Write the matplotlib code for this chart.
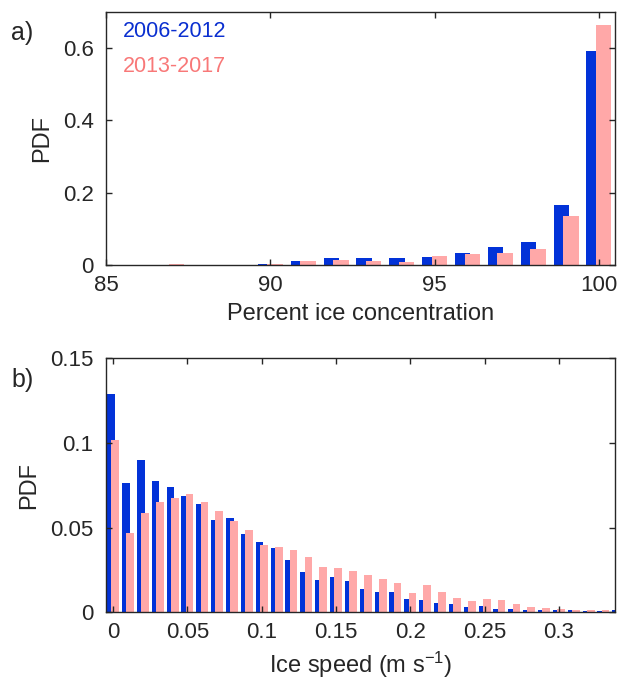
import numpy as np
import matplotlib
matplotlib.use('Agg')
import matplotlib.pyplot as plt

# 그림에서 읽은 값들
conc_bins = [85, 86, 87, 88, 89, 90, 91, 92, 93, 94, 95, 96, 97, 98, 99, 100]
conc_early = [0.001, 0.001, 0.001, 0.001, 0.001, 0.002, 0.010, 0.018, 0.018, 0.020,
              0.023, 0.034, 0.050, 0.064, 0.166, 0.592]
conc_late = [0.001, 0.001, 0.002, 0.001, 0.001, 0.003, 0.011, 0.014, 0.012, 0.009,
             0.025, 0.031, 0.034, 0.045, 0.135, 0.664]

speed_bins = [0.00, 0.01, 0.02, 0.03, 0.04, 0.05, 0.06, 0.07, 0.08, 0.09, 0.10, 0.11,
              0.12, 0.13, 0.14, 0.15, 0.16, 0.17, 0.18, 0.19, 0.20, 0.21, 0.22, 0.23,
              0.24, 0.25, 0.26, 0.27, 0.28, 0.29, 0.30, 0.31, 0.32, 0.33, 0.34]
speed_early = [0.1292, 0.0763, 0.0899, 0.0773, 0.0740, 0.0688, 0.0641, 0.0544, 0.0554,
               0.0465, 0.0414, 0.0379, 0.0309, 0.0237, 0.0189, 0.0207, 0.0183, 0.0137,
               0.0118, 0.0122, 0.0077, 0.0071, 0.0053, 0.0047, 0.0030, 0.0036, 0.0020,
               0.0021, 0.0014, 0.0014, 0.0012, 0.0012, 0.0008, 0.0008, 0.0012]
speed_late = [0.1020, 0.0467, 0.0589, 0.0651, 0.0674, 0.0698, 0.0654, 0.0598, 0.0540,
              0.0487, 0.0400, 0.0386, 0.0365, 0.0327, 0.0270, 0.0264, 0.0243, 0.0221,
              0.0195, 0.0172, 0.0114, 0.0160, 0.0120, 0.0085, 0.0067, 0.0080, 0.0073,
              0.0047, 0.0031, 0.0025, 0.0020, 0.0016, 0.0014, 0.0014, 0.0010]

labels = ['2006-2012', '2013-2017']

blue = '#0232d8'
pink = '#ffa8a8'
blue_txt = '#0a2fd0'
pink_txt = '#f87878'
axcol = '#262626'

plt.rcParams['font.family'] = ['Liberation Sans', 'DejaVu Sans']
plt.rcParams['mathtext.default'] = 'regular'


def style_axes(ax):
    for s in ax.spines.values():
        s.set_color(axcol)
        s.set_linewidth(1.0)
    ax.tick_params(direction='in', top=True, right=True, length=4.5, width=1.0,
                   colors=axcol, labelsize=16, pad=7)
    ax.tick_params(axis='y', pad=9)


fig = plt.figure(figsize=(6.2, 6.89), dpi=100)

# a) 얼음 농도
ax0 = fig.add_axes([0.171, 0.6154, 0.821, 0.3676])
x = np.array(conc_bins)
ax0.bar(x - 0.145, conc_early, width=0.47, color=blue, edgecolor='none')
ax0.bar(x + 0.145, conc_late, width=0.47, color=pink, edgecolor='none')
ax0.set_xlim(85, 100.49)
ax0.set_ylim(0, 0.7)
ax0.set_xticks([85, 90, 95, 100])
ax0.set_yticks([0, 0.2, 0.4, 0.6])
ax0.set_yticklabels(['0', '0.2', '0.4', '0.6'])
style_axes(ax0)
ax0.set_xlabel('Percent ice concentration', fontsize=17, color=axcol, labelpad=5)
ax0.set_ylabel('PDF', fontsize=17, color=axcol, labelpad=7)
ax0.text(0.033, 0.921, labels[0], transform=ax0.transAxes, color=blue_txt,
         fontsize=15.5, va='center', ha='left')
ax0.text(0.033, 0.783, labels[1], transform=ax0.transAxes, color=pink_txt,
         fontsize=15.5, va='center', ha='left')

# b) 얼음 속도
ax1 = fig.add_axes([0.171, 0.1113, 0.821, 0.3687])
xs = np.array(speed_bins)
ax1.bar(xs - 0.00146, speed_early, width=0.0052, color=blue, edgecolor='none')
ax1.bar(xs + 0.00146, speed_late, width=0.0052, color=pink, edgecolor='none')
ax1.set_xlim(-0.0048, 0.3378)
ax1.set_ylim(0, 0.15)
ax1.set_xticks([0, 0.05, 0.1, 0.15, 0.2, 0.25, 0.3])
ax1.set_xticklabels(['0', '0.05', '0.1', '0.15', '0.2', '0.25', '0.3'])
ax1.set_yticks([0, 0.05, 0.1, 0.15])
ax1.set_yticklabels(['0', '0.05', '0.1', '0.15'])
style_axes(ax1)
ax1.set_xlabel('Ice speed (m s$^{-1}$)', fontsize=17, color=axcol, labelpad=5)
ax1.set_ylabel('PDF', fontsize=17, color=axcol, labelpad=7)

fig.text(0.018, 0.952, 'a)', fontsize=18, color=axcol, va='center', ha='left')
fig.text(0.018, 0.448, 'b)', fontsize=18, color=axcol, va='center', ha='left')

fig.savefig('out.png', dpi=100)
